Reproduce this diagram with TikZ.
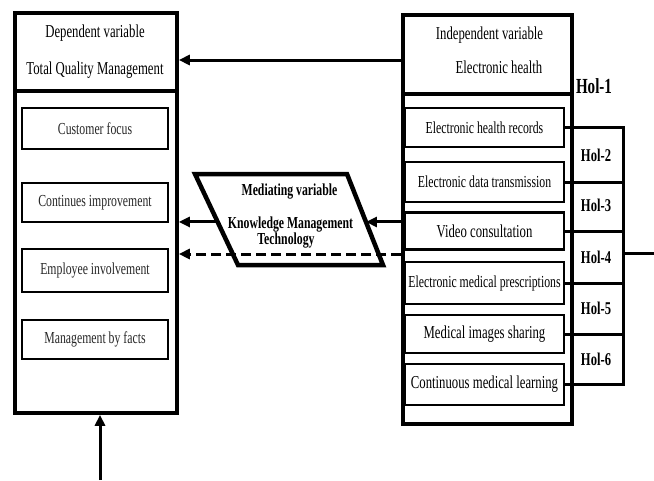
\documentclass[tikz,border=0pt]{standalone}
\usepackage{fontspec}
\setmainfont{Liberation Serif}[FakeStretch=0.7]
\usetikzlibrary{arrows.meta,calc}
\newcommand\fsS{\fontsize{16.8}{19}\selectfont}
\newcommand\fsL{\fontsize{18.2}{21}\selectfont}
\newcommand\fsH{\bfseries\fontsize{18}{21}\selectfont}
\newcommand\fsHa{\bfseries\fontsize{21.5}{24}\selectfont}
\begin{document}
\begin{tikzpicture}[x=1pt,y=-1pt,
  outer/.style={draw,line width=3.6pt,inner sep=0pt},
  inbox/.style={draw,line width=2.6pt,inner sep=0pt,align=center},
  lbl/.style={inner sep=0pt,anchor=base},
  hol/.style={inner sep=0pt,font=\fsH},
  arr/.style={line width=3pt,-{Triangle[length=11pt,width=10pt]}},
  link/.style={line width=3pt}]
\useasboundingbox (0,0) rectangle (654,480);
% ---- left: dependent variable
\node[outer,minimum width=162pt,minimum height=78pt] (dep) at (96,52) {};
\node[outer,minimum width=162pt,minimum height=322pt] (deplow) at (96,252) {};
\node[lbl,font=\fsL] (dept1) at (95,37) {Dependent variable};
\node[lbl,font=\fsL] (dept2) at (95,74) {Total Quality Management};
\node[inbox,minimum width=146pt,minimum height=41pt,font=\fsS,text=black!85] (cf) at (95,128.5) {Customer focus};
\node[inbox,minimum width=146pt,minimum height=39pt,font=\fsS,text=black!85] (ci) at (95,202.5) {Continues improvement};
\node[inbox,minimum width=146pt,minimum height=43pt,font=\fsS,text=black!85] (ei) at (95,270.5) {Employee involvement};
\node[inbox,minimum width=146pt,minimum height=39pt,font=\fsS,text=black!85] (mf) at (95,339.5) {Management by facts};
% ---- right: independent variable
\node[outer,minimum width=169pt,minimum height=79pt] (ind) at (487.5,54.5) {};
\node[outer,minimum width=169pt,minimum height=330pt] (indlow) at (487.5,259) {};
\node[lbl,font=\fsL] (indt1) at (489.5,39) {Independent variable};
\node[lbl,font=\fsL] (indt2) at (499,73) {Electronic health};
\node[inbox,minimum width=159pt,minimum height=39pt,font=\fsS] (ehr) at (484.5,127.5) {Electronic health records};
\node[inbox,minimum width=159pt,minimum height=40pt,font=\fsS] (edt) at (484.5,182) {Electronic data transmission};
\node[inbox,minimum width=159pt,minimum height=37pt,font=\fsL] (vc) at (484.5,231) {Video consultation};
\node[inbox,minimum width=159pt,minimum height=42pt,font=\fsS] (emp) at (484.5,283) {Electronic medical prescriptions};
\node[inbox,minimum width=159pt,minimum height=38pt,font=\fsL] (mis) at (484.5,334) {Medical images sharing};
\node[inbox,minimum width=159pt,minimum height=41pt,font=\fsL] (cml) at (484.5,384.5) {Continuous medical learning};
% ---- hypothesis cells
\coordinate (hr) at (623,0);
\draw[link] (ehr.east) -- (ehr.east -| hr) -- (cml.east -| hr) -- (cml.east);
\foreach \b in {edt,vc,emp,mis} \draw[link] (\b.east) -- (\b.east -| hr);
\coordinate (hout) at (654,253);
\draw[link] (hout -| hr) -- (hout);
\node[hol,font=\fsHa] (h1) at (594,86) {Hol-1};
\node[hol] (h2) at (596,155) {Hol-2};
\node[hol] (h3) at (596,205) {Hol-3};
\node[hol] (h4) at (596,257) {Hol-4};
\node[hol] (h5) at (596,308) {Hol-5};
\node[hol] (h6) at (596,359) {Hol-6};
% ---- mediating variable
\coordinate (m1) at (195,174);
\coordinate (m2) at (347,174);
\coordinate (m3) at (383,265);
\coordinate (m4) at (238,265);
\draw[line width=4.5pt,line join=miter] (m1) -- (m2) -- (m3) -- (m4) -- cycle;
\node[lbl,font=\bfseries\fsS] (mt1) at (289.5,195) {Mediating variable};
\node[lbl,font=\bfseries\fsS] (mt2) at (290.5,228) {Knowledge Management};
\node[lbl,font=\bfseries\fsS] (mt3) at (286,244) {Technology};
\coordinate (mR) at ($(m2)!0.527!(m3)$);
\coordinate (mL) at ($(m1)!0.527!(m4)$);
% ---- connectors
\coordinate (ta) at (0,60);
\draw[arr] (ind.west |- ta) -- (dep.east |- ta);
\draw[arr] (indlow.west |- mR) -- (mR);
\draw[arr] (mL) -- (deplow.east |- mL);
\coordinate (dl) at (0,254);
\draw[arr,dash pattern=on 10pt off 5pt] (indlow.west |- dl) -- (deplow.east |- dl);
\coordinate (ba) at (100,480);
\draw[arr] (ba) -- (ba |- deplow.south);
\end{tikzpicture}
\end{document}
